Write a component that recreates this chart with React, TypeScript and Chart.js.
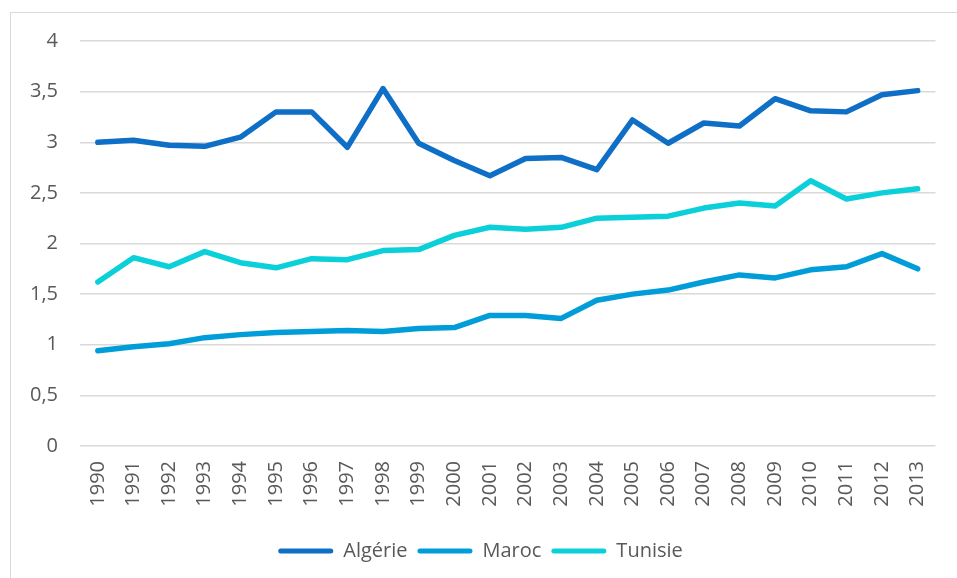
import React, { useEffect, useRef } from "react";
import { Chart, registerables } from "chart.js";

Chart.register(...registerables);

const years = [
  "1990", "1991", "1992", "1993", "1994", "1995", "1996", "1997", "1998", "1999", "2000", "2001",
  "2002", "2003", "2004", "2005", "2006", "2007", "2008", "2009", "2010", "2011", "2012", "2013",
];

const algerie = [
  3.0, 3.02, 2.97, 2.96, 3.05, 3.3, 3.3, 2.95, 3.53, 2.99, 2.82, 2.67,
  2.84, 2.85, 2.73, 3.22, 2.99, 3.19, 3.16, 3.43, 3.31, 3.3, 3.47, 3.51,
];

const maroc = [
  0.94, 0.98, 1.01, 1.07, 1.1, 1.12, 1.13, 1.14, 1.13, 1.16, 1.17, 1.29,
  1.29, 1.26, 1.44, 1.5, 1.54, 1.62, 1.69, 1.66, 1.74, 1.77, 1.9, 1.75,
];

const tunisie = [
  1.62, 1.86, 1.77, 1.92, 1.81, 1.76, 1.85, 1.84, 1.93, 1.94, 2.08, 2.16,
  2.14, 2.16, 2.25, 2.26, 2.27, 2.35, 2.4, 2.37, 2.62, 2.44, 2.5, 2.54,
];

const seriesNames = ["Algérie", "Maroc", "Tunisie"];
const seriesColors = ["#0F6FC6", "#009DD9", "#0BD0D9"];

const yMin = 0;
const yMax = 4;
const yStep = 0.5;

const FONT = { family: "'Open Sans', sans-serif", size: 20 };
const TEXT = "#595959";

export default function App() {
  const ref = useRef<HTMLCanvasElement>(null);

  useEffect(() => {
    const values = [algerie, maroc, tunisie];
    const chart = new Chart(ref.current as HTMLCanvasElement, {
      type: "line",
      data: {
        labels: years,
        datasets: values.map((v, i) => ({
          label: seriesNames[i],
          data: v,
          borderColor: seriesColors[i],
          backgroundColor: seriesColors[i],
          borderWidth: 5.5,
          pointRadius: 0,
          pointHoverRadius: 0,
          tension: 0,
          borderCapStyle: "round" as const,
          borderJoinStyle: "round" as const,
          fill: false,
        })),
      },
      options: {
        responsive: false,
        animation: false,
        layout: { padding: { left: 20, right: 16, top: 41, bottom: 7 } },
        scales: {
          x: {
            offset: true,
            grid: { display: false, drawTicks: false },
            border: { display: false },
            ticks: {
              minRotation: 90,
              maxRotation: 90,
              autoSkip: false,
              padding: 15,
              color: TEXT,
              font: FONT,
            },
            afterFit: (s: any) => {
              s.height = 85;
            },
          },
          y: {
            min: yMin,
            max: yMax,
            ticks: {
              stepSize: yStep,
              padding: 22,
              color: TEXT,
              font: FONT,
              callback: (v: any) => String(v).replace(".", ","),
            },
            grid: { color: "#D9D9D9", lineWidth: 1.5, drawTicks: false },
            border: { display: false },
            afterFit: (s: any) => {
              s.width = 60;
            },
          },
        },
        plugins: {
          tooltip: { enabled: false },
          legend: {
            position: "bottom",
            labels: {
              boxWidth: 55,
              boxHeight: 5,
              useBorderRadius: true,
              borderRadius: 2.5,
              padding: 10,
              color: TEXT,
              font: FONT,
              generateLabels: (c: any) =>
                c.data.datasets.map((ds: any, i: number) => ({
                  text: ds.label,
                  fillStyle: ds.borderColor,
                  strokeStyle: ds.borderColor,
                  lineWidth: 0,
                  hidden: false,
                  datasetIndex: i,
                  fontColor: TEXT,
                  borderRadius: 2.5,
                })),
            },
          },
        },
      },
    } as any);
    return () => chart.destroy();
  }, []);

  return (
    <div style={{ position: "fixed", left: 0, top: 0, width: 957, height: 578, background: "#fff", overflow: "hidden" }}>
      <div
        style={{
          position: "absolute",
          left: 10,
          top: 12,
          width: 980,
          height: 600,
          border: "1.5px solid #D9D9D9",
          boxSizing: "border-box",
        }}
      />
      <canvas ref={ref} width={957} height={578} style={{ position: "absolute", left: 0, top: 0 }} />
    </div>
  );
}
